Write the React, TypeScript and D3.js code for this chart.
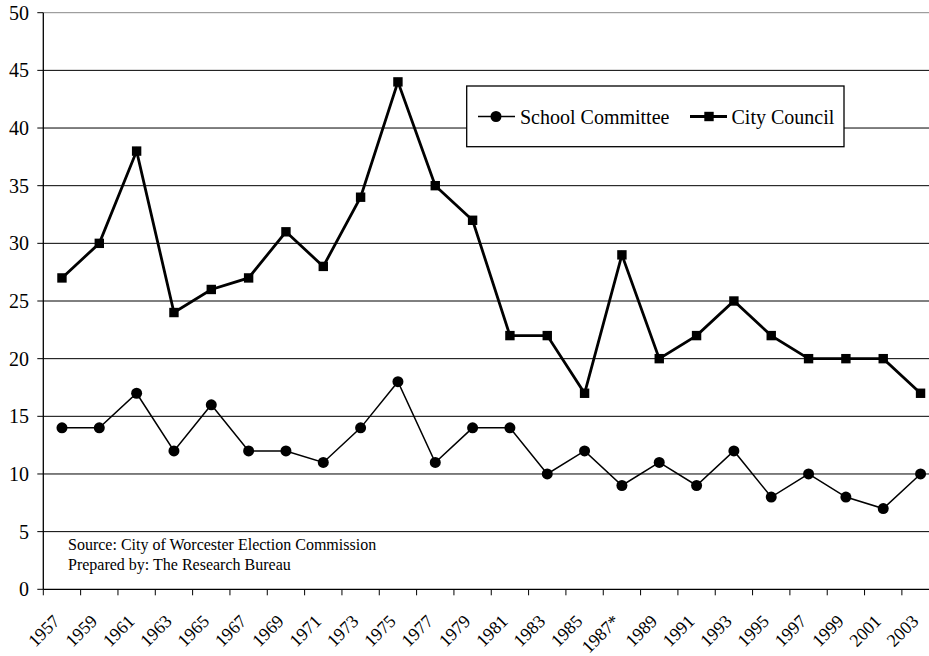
import React from "react";
import * as d3 from "d3";

const years = ["1957","1959","1961","1963","1965","1967","1969","1971","1973","1975","1977","1979","1981","1983","1985","1987*","1989","1991","1993","1995","1997","1999","2001","2003"];
const schoolCommittee = [14,14,17,12,16,12,12,11,14,18,11,14,14,10,12,9,11,9,12,8,10,8,7,10];
const cityCouncil = [27,30,38,24,26,27,31,28,34,44,35,32,22,22,17,29,20,22,25,22,20,20,20,17];
const yTicks = [0,5,10,15,20,25,30,35,40,45,50];
const seriesNames = ["School Committee", "City Council"];
const sourceLines = ["Source: City of Worcester Election Commission", "Prepared by: The Research Bureau"];

const W = 929, H = 656;
const left = 43.3, top = 12.7, bottom = 589.3;
const band = 37.33;
const right = left + band * years.length;
const FAM = "Liberation Serif";
const tstyle = { fontFamily: FAM };

export default function App() {
  const x = d3.scaleBand<string>().domain(years).range([left, right]).paddingInner(0).paddingOuter(0);
  const y = d3.scaleLinear().domain([0, 50]).range([bottom, top]);
  const cx = (i: number) => (x(years[i]) as number) + x.bandwidth() / 2;
  const line = d3.line<number>().x((_, i) => cx(i)).y((d) => y(d));
  const tickXs = d3.range(years.length + 1).map((i) => left + i * x.bandwidth());

  return (
    <svg width={W} height={H} fontFamily={FAM} style={{ position: "absolute", left: 0, top: 0, fontFamily: FAM }}>
      <rect x={0} y={0} width={W} height={H} fill="#fff" />
      {yTicks.map((t) => t > 0 && (
        <line key={"g" + t} x1={left} x2={right} y1={y(t)} y2={y(t)} stroke={t === 50 ? "#888" : "#000"} strokeWidth={1} />
      ))}
      {yTicks.map((t) => (
        <line key={"t" + t} x1={left - 6} x2={left} y1={y(t)} y2={y(t)} stroke="#000" strokeWidth={1} />
      ))}
      {yTicks.map((t) => (
        <text key={"l" + t} x={29} y={y(t) + 7} textAnchor="end" fontSize={20} fontFamily={FAM} style={tstyle}>{String(t)}</text>
      ))}
      <line x1={left} x2={left} y1={top} y2={bottom} stroke="#000" strokeWidth={1.3} />
      <line x1={left} x2={right} y1={bottom} y2={bottom} stroke="#000" strokeWidth={1.3} />
      {tickXs.map((tx, i) => (
        <line key={i} x1={tx} x2={tx} y1={bottom} y2={bottom + 6} stroke="#000" strokeWidth={1} />
      ))}
      {years.map((yr, i) => (
        <g key={yr} transform={`translate(${cx(i) - 1},${bottom + 33}) rotate(-45)`}>
          <text x={0} y={0} textAnchor="end" fontSize={18} fontFamily={FAM} style={tstyle}>{yr}</text>
        </g>
      ))}
      <path d={line(schoolCommittee) || ""} fill="none" stroke="#000" strokeWidth={1.5} />
      {schoolCommittee.map((v, i) => (
        <circle key={i} cx={cx(i)} cy={y(v)} r={5.5} fill="#000" />
      ))}
      <path d={line(cityCouncil) || ""} fill="none" stroke="#000" strokeWidth={2.8} strokeLinejoin="miter" />
      {cityCouncil.map((v, i) => (
        <rect key={i} x={cx(i) - 4.7} y={y(v) - 4.7} width={9.4} height={9.4} fill="#000" />
      ))}
      {sourceLines.map((s, i) => (
        <text key={s} x={68} y={550 + i * 20} fontSize={16} fontFamily={FAM} style={tstyle}>{s}</text>
      ))}
      <rect x={466.7} y={86} width={377.3} height={60.7} fill="#fff" stroke="#000" strokeWidth={1.3} />
      <line x1={478} x2={515} y1={116.5} y2={116.5} stroke="#000" strokeWidth={1.5} />
      <circle cx={496} cy={116.5} r={5.5} fill="#000" />
      <text x={520} y={123.5} fontSize={20} fontFamily={FAM} style={tstyle}>{seriesNames[0]}</text>
      <line x1={690} x2={727} y1={116.5} y2={116.5} stroke="#000" strokeWidth={2.8} />
      <rect x={709 - 4.7} y={116.5 - 4.7} width={9.4} height={9.4} fill="#000" />
      <text x={731.5} y={123.5} fontSize={20} fontFamily={FAM} style={tstyle}>{seriesNames[1]}</text>
    </svg>
  );
}
